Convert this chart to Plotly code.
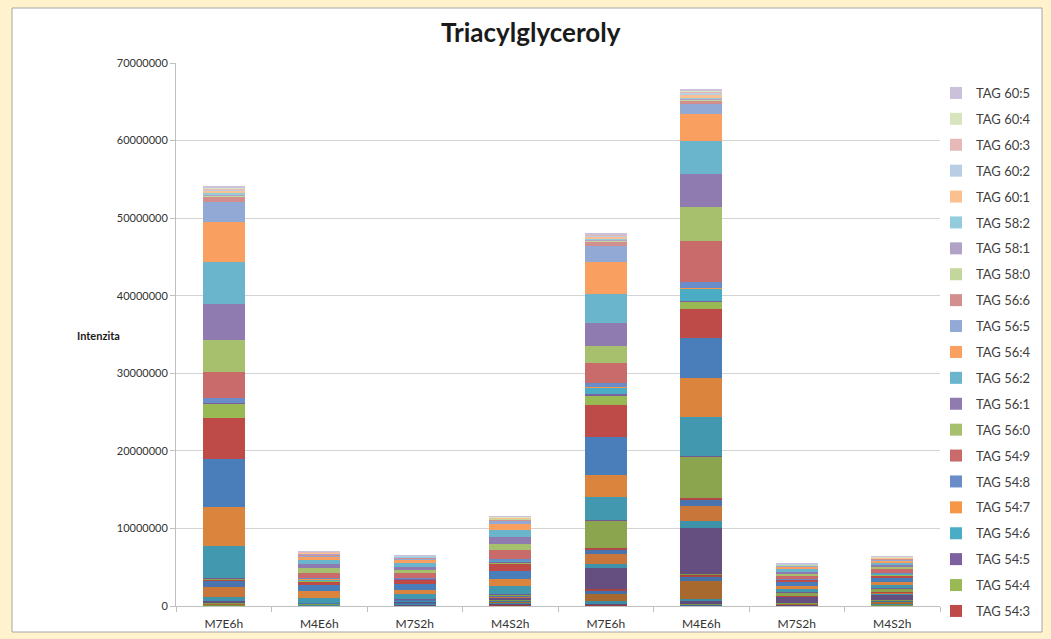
import plotly.graph_objects as go

categories = ["M7E6h", "M4E6h", "M7S2h", "M4S2h", "M7E6h", "M4E6h", "M7S2h", "M4S2h"]

# series, bottom of the stack -> top
series_names = [
    "TAG 48:0", "TAG 48:1", "TAG 48:2", "TAG 48:3", "TAG 50:0", "TAG 50:1", "TAG 50:2", "TAG 50:3",
    "TAG 50:4", "TAG 50:5", "TAG 52:0", "TAG 52:1", "TAG 52:2", "TAG 52:3", "TAG 52:4", "TAG 52:5",
    "TAG 52:6", "TAG 54:1", "TAG 54:2", "TAG 54:3", "TAG 54:4", "TAG 54:5", "TAG 54:6", "TAG 54:7",
    "TAG 54:8", "TAG 54:9", "TAG 56:0", "TAG 56:1", "TAG 56:2", "TAG 56:4", "TAG 56:5", "TAG 56:6",
    "TAG 58:0", "TAG 58:1", "TAG 58:2", "TAG 60:1", "TAG 60:2", "TAG 60:3", "TAG 60:4", "TAG 60:5",
]
legend_names = series_names[19:]  # entries visible in the legend

series_colors = [
    "#3F6695", "#9B3D3B", "#7A9142", "#5E4A7D", "#3A8DA3", "#A8692F", "#4470A8", "#A84442",
    "#7E9A45", "#654F80", "#3E93AA", "#C8763A", "#4A74AF", "#B24744", "#8BA54F", "#735A95",
    "#4198AF", "#DB843D", "#4A7EBB", "#BE4B48", "#98B954", "#7D60A0", "#4BACC6", "#F79646",
    "#6A8DC9", "#C86B6A", "#A7C06E", "#8F7BB0", "#6AB5CB", "#F9A060", "#93A9D5", "#D38F8E",
    "#C3D69B", "#B3A2C7", "#93CDDD", "#FAC090", "#B9CDE5", "#E6B9B8", "#D7E4BD", "#CCC1DA",
]

# values in millions, one list per column (bottom -> top, same order as series_names)
m7e6h_1 = [0.06, 0.04, 0.03, 0.05, 0.04, 0.06, 0.03, 0.02, 0.02, 0.30, 0.57, 1.29, 0.77, 0.13, 0.13, 0.03,
           4.20, 4.95, 6.23, 5.29, 1.90, 0.03, 0.03, 0.03, 0.64, 3.35, 4.07, 4.64, 5.47, 5.07, 2.58, 0.73,
           0.18, 0.13, 0.18, 0.28, 0.18, 0.13, 0.10, 0.15]
m4e6h_1 = [0.03, 0.02, 0.02, 0.04, 0.03, 0.06, 0.03, 0.02, 0.02, 0.05, 0.02, 0.03, 0.02, 0.02, 0.03, 0.01,
           0.52, 0.98, 0.73, 0.52, 0.10, 0.05, 0.10, 0.05, 0.15, 0.60, 0.60, 0.60, 0.45, 0.42, 0.20, 0.10,
           0.05, 0.05, 0.05, 0.08, 0.06, 0.06, 0.04, 0.06]
m7s2h_1 = [0.05, 0.03, 0.03, 0.10, 0.05, 0.12, 0.05, 0.04, 0.03, 0.13, 0.05, 0.07, 0.04, 0.02, 0.06, 0.02,
           0.70, 0.52, 0.68, 0.64, 0.04, 0.02, 0.04, 0.02, 0.03, 0.64, 0.40, 0.45, 0.50, 0.40, 0.15, 0.09,
           0.04, 0.04, 0.04, 0.07, 0.05, 0.05, 0.03, 0.04]
m4s2h_1 = [0.08, 0.06, 0.05, 0.15, 0.08, 0.20, 0.08, 0.06, 0.04, 0.25, 0.08, 0.15, 0.08, 0.04, 0.08, 0.03,
           1.07, 0.86, 1.07, 0.86, 0.30, 0.03, 0.12, 0.03, 0.20, 1.16, 0.77, 0.94, 0.90, 0.73, 0.43, 0.20,
           0.04, 0.04, 0.04, 0.06, 0.05, 0.04, 0.03, 0.05]
m7e6h_2 = [0.08, 0.06, 0.06, 0.10, 0.30, 0.99, 0.30, 0.31, 0.03, 2.62, 0.52, 1.38, 0.55, 0.22, 3.56, 0.03,
           2.89, 2.91, 4.82, 4.16, 1.20, 0.22, 0.86, 0.03, 0.52, 2.58, 2.27, 2.93, 3.74, 4.16, 1.99, 0.59,
           0.12, 0.10, 0.12, 0.25, 0.15, 0.15, 0.08, 0.15]
m4e6h_2 = [0.15, 0.10, 0.05, 0.35, 0.31, 2.27, 0.57, 0.30, 0.05, 5.89, 0.98, 1.86, 0.81, 0.23, 5.36, 0.05,
           4.99, 5.13, 5.09, 3.78, 0.92, 0.05, 1.61, 0.05, 0.86, 5.22, 4.40, 4.22, 4.34, 3.39, 1.30, 0.45,
           0.15, 0.12, 0.15, 0.35, 0.25, 0.15, 0.12, 0.25]
m7s2h_2 = [0.05, 0.03, 0.03, 0.08, 0.04, 0.08, 0.04, 0.03, 0.01, 0.81, 0.03, 0.03, 0.02, 0.01, 0.48, 0.02,
           0.39, 0.42, 0.55, 0.22, 0.04, 0.01, 0.04, 0.01, 0.03, 0.39, 0.26, 0.27, 0.35, 0.32, 0.12, 0.06,
           0.03, 0.03, 0.03, 0.05, 0.03, 0.03, 0.02, 0.03]
m4s2h_2 = [0.06, 0.04, 0.04, 0.08, 0.06, 0.35, 0.06, 0.04, 0.02, 0.75, 0.08, 0.10, 0.06, 0.03, 0.50, 0.02,
           0.40, 0.35, 0.55, 0.35, 0.10, 0.02, 0.08, 0.02, 0.12, 0.43, 0.30, 0.30, 0.28, 0.30, 0.12, 0.06,
           0.03, 0.03, 0.04, 0.06, 0.04, 0.04, 0.03, 0.04]

columns = [m7e6h_1, m4e6h_1, m7s2h_1, m4s2h_1, m7e6h_2, m4e6h_2, m7s2h_2, m4s2h_2]
y_ticks = [0, 10000000, 20000000, 30000000, 40000000, 50000000, 60000000, 70000000]

FONT = "Lato, 'Open Sans', sans-serif"
x_pos = list(range(len(categories)))

fig = go.Figure()
n = len(series_names)
for i, name in enumerate(series_names):
    vals = [col[i] * 1e6 for col in columns]
    fig.add_trace(go.Bar(
        x=x_pos, y=vals, name=name,
        marker=dict(color=series_colors[i], line=dict(width=0)),
        showlegend=name in legend_names,
        legendgroup=name,
        legendrank=n - i,
    ))

# plot area in pixels: x 176..940, y 63..606
L, R, T, B = 176, 940, 63, 606
W, H = 1051, 639
pw, ph = R - L, B - T
def px(x):
    return (x - L) / pw
def py(y):
    return (B - y) / ph

fig.update_layout(
    width=W, height=H,
    margin=dict(l=L, r=W - R, t=T, b=H - B, pad=0),
    paper_bgcolor="#FFF2CC",
    plot_bgcolor="white",
    barmode="stack",
    bargap=0.56,
    font=dict(family=FONT, size=12, color="#404040"),
    title=dict(text="<b>Triacylglyceroly</b>", x=0.505, xref="container", xanchor="center",
               y=1 - 33 / H, yref="container", yanchor="middle",
               font=dict(family=FONT, size=26, color="#1a1a1a")),
    xaxis=dict(
        range=[-0.5, 7.5], tickmode="array", tickvals=x_pos, ticktext=categories,
        ticks="", showgrid=False, zeroline=False, ticklabelstandoff=7, automargin=False,
        showline=True, linecolor="#BFBFBF", linewidth=1,
        tickfont=dict(family=FONT, size=12, color="#333333"),
        minor=dict(tickmode="array", tickvals=[k - 0.5 for k in range(len(categories) + 1)],
                   ticks="outside", ticklen=5, tickcolor="#BFBFBF", tickwidth=1, showgrid=False),
    ),
    yaxis=dict(
        range=[0, 70000000], tickmode="array", tickvals=y_ticks,
        ticktext=[str(v) for v in y_ticks], automargin=False,
        ticks="outside", ticklen=5, tickcolor="#BFBFBF",
        showgrid=True, gridcolor="#D4D4D4", gridwidth=1,
        showline=True, linecolor="#BFBFBF", linewidth=1, zeroline=False,
        tickfont=dict(family=FONT, size=11, color="#333333"),
    ),
    legend=dict(
        traceorder="grouped", tracegroupgap=6,
        x=px(936), xanchor="left", y=py(78), yanchor="top",
        font=dict(family=FONT, size=13, color="#404040"),
        bgcolor="rgba(0,0,0,0)", itemwidth=30, maxheight=600,
    ),
    shapes=[dict(type="rect", xref="paper", yref="paper",
                 x0=px(12), x1=px(1042), y0=py(632), y1=py(8),
                 fillcolor="white", line=dict(color="#A6A6A6", width=1), layer="below")],
    annotations=[dict(text="<b>Intenzita</b>", xref="paper", yref="paper",
                      x=px(98), y=py(336), showarrow=False, xanchor="center", yanchor="middle",
                      font=dict(family=FONT, size=11, color="#1a1a1a"))],
)

fig.write_html("out.html")
